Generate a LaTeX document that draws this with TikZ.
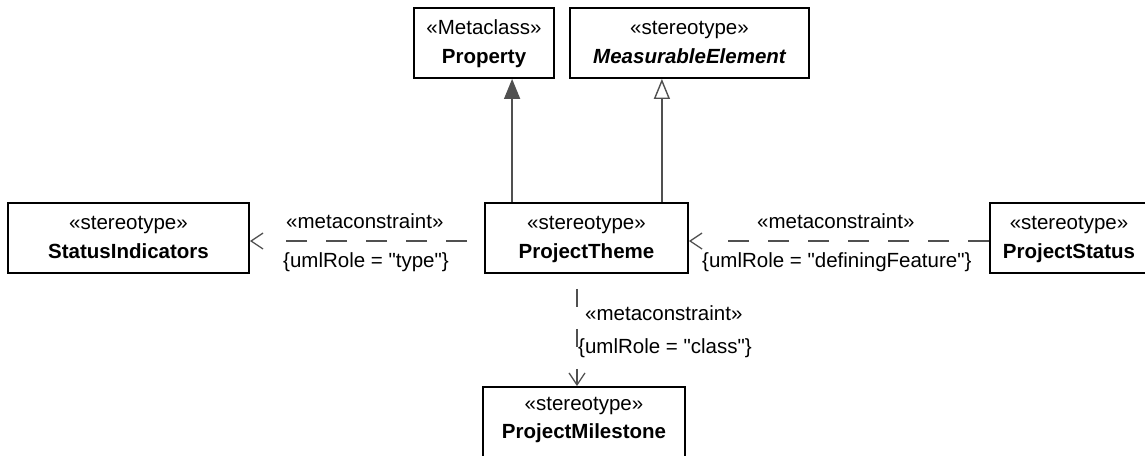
\documentclass[tikz,border=0pt]{standalone}
\usepackage{fontspec}
\setmainfont{Liberation Sans}
\usetikzlibrary{arrows.meta,calc}
\definecolor{linec}{HTML}{505050}
\begin{document}
\begin{tikzpicture}[x=1pt,y=-1pt,
  umlbox/.style={draw=black, line width=1.8pt, rectangle, inner sep=0pt, fill=white, minimum height=70pt},
  stlabel/.style={anchor=base, inner sep=0pt, font=\fontsize{20.5}{25}\selectfont},
  nmlabel/.style={anchor=base, inner sep=0pt, font=\fontsize{20.5}{25}\selectfont\bfseries},
  cnlabel/.style={anchor=base west, inner sep=0pt, font=\fontsize{20.5}{25}\selectfont},
  gen/.style={draw=linec, line width=1.4pt},
  dep/.style={draw=linec, line width=1.3pt, -{Straight Barb[length=12pt,width=16pt]}},
]
\useasboundingbox (0,0) rectangle (1145,455);
\clip (0,0) rectangle (1145,455);

% boxes
\node[umlbox, minimum width=140pt] (prop) at (484,43) {};
\node[umlbox, minimum width=239pt] (me) at (689.5,43) {};
\node[umlbox, minimum width=241pt] (si) at (128.5,238) {};
\node[umlbox, minimum width=203pt] (pt) at (586.5,238) {};
\node[umlbox, minimum width=158pt] (ps) at (1069,238) {};
\node[umlbox, minimum width=202pt] (pm) at (584,422) {};

% box texts
\node[stlabel] (prop-s) at ($(prop.north)+(0,27)$) {«Metaclass»};
\node[nmlabel] (prop-n) at ($(prop.north)+(0,56)$) {Property};
\node[stlabel] (me-s) at ($(me.north)+(0,27)$) {«stereotype»};
\node[nmlabel] (me-n) at ($(me.north)+(0,56)$) {\itshape MeasurableElement};
\node[stlabel] (si-s) at ($(si.north)+(0,27)$) {«stereotype»};
\node[nmlabel] (si-n) at ($(si.north)+(0,56)$) {StatusIndicators};
\node[stlabel] (pt-s) at ($(pt.north)+(0,27)$) {«stereotype»};
\node[nmlabel] (pt-n) at ($(pt.north)+(0,56)$) {ProjectTheme};
\node[stlabel] (ps-s) at ($(ps.north)+(0,27)$) {«stereotype»};
\node[nmlabel] (ps-n) at ($(ps.north)+(0,56)$) {ProjectStatus};
\node[stlabel] (pm-s) at ($(pm.north)+(0,24)$) {«stereotype»};
\node[nmlabel] (pm-n) at ($(pm.north)+(0,52)$) {ProjectMilestone};

% generalizations
\draw[gen, -{Triangle[length=20pt,width=16pt,fill=linec]}]
  ([xshift=28pt]pt.north west) -- ([xshift=28pt]pt.north west |- prop.south);
\draw[gen, -{Triangle[length=20pt,width=16pt,open]}]
  ([xshift=-27pt]pt.north east) -- ([xshift=-27pt]pt.north east |- me.south);

% metaconstraints
\draw[dep, dash pattern=on 21pt off 19pt on 21pt off 19pt on 21pt off 19pt on 21pt off 19pt on 21pt off 217pt, dash phase=381pt]
  ([yshift=-3pt]pt.west) -- ([yshift=-3pt]pt.west -| si.east);
\draw[dep, dash pattern=on 21pt off 19pt on 21pt off 19pt on 21pt off 19pt on 21pt off 19pt on 21pt off 19pt on 21pt off 19pt on 21pt off 300pt]
  ([yshift=-3pt]ps.west) -- ([yshift=-3pt]ps.west -| pt.east);
\draw[dep, dash pattern=on 18pt off 22pt, dash phase=25pt]
  ([xshift=-9.5pt]pt.south) -- ([xshift=-9.5pt]pt.south |- pm.north);

% connector labels
\node[cnlabel] (l1a) at (286,228) {«metaconstraint»};
\node[cnlabel] (l1b) at (283,267) {\{umlRole = \textquotedbl type\textquotedbl\}};
\node[cnlabel] (l2a) at (757,228) {«metaconstraint»};
\node[cnlabel] (l2b) at (702,267) {\{umlRole = \textquotedbl definingFeature\textquotedbl\}};
\node[cnlabel] (l3a) at (585,320) {«metaconstraint»};
\node[cnlabel] (l3b) at (578,353) {\{umlRole = \textquotedbl class\textquotedbl\}};
\end{tikzpicture}
\end{document}
